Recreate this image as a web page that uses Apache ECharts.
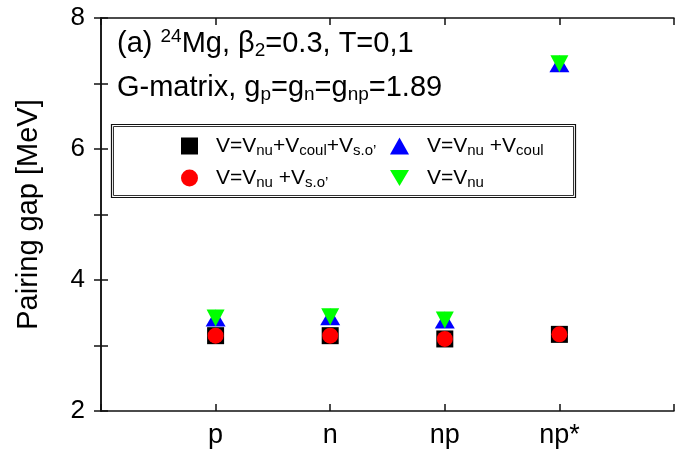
<!DOCTYPE html>
<html>
<head>
<meta charset="utf-8">
<script src="https://cdn.jsdelivr.net/npm/echarts@6/dist/echarts.min.js"></script>
<style>
  html, body { margin: 0; padding: 0; background: #fff; }
  #chart { width: 677px; height: 453px; }
</style>
</head>
<body>
<div id="chart"></div>
<script>
// Pairing channels on the x axis
const categories = ['p', 'n', 'np', 'np*'];
// Pairing gaps [MeV] for each interaction variant
const gapFull   = [3.15, 3.15, 3.10, 3.17];  // V = Vnu + Vcoul + Vs.o.
const gapSO     = [3.15, 3.15, 3.10, 3.17];  // V = Vnu + Vs.o.
const gapCoul   = [3.42, 3.44, 3.39, 7.30];  // V = Vnu + Vcoul
const gapNu     = [3.42, 3.44, 3.39, 7.30];  // V = Vnu
const yTicks = [2, 4, 6, 8];

const FONT = 'Liberation Sans, Arial, sans-serif';

function pts(vals) {
  return vals.map((v, i) => [i + 1, v]);
}

const legendText = {
  full: 'V=V{s|nu}+V{s|coul}+V{s|s.o\u2019}',
  coul: 'V=V{s|nu} +V{s|coul}',
  so:   'V=V{s|nu} +V{s|s.o\u2019}',
  nu:   'V=V{s|nu}'
};
const downTri = 'path://M0 0L20 0L10 17Z';

const legendRich = {
  s: { fontSize: 15, fontFamily: FONT, color: '#000', lineHeight: 13, verticalAlign: 'bottom' }
};
const legendTextStyle = {
  fontSize: 21, fontFamily: FONT, color: '#000', lineHeight: 24,
  padding: [0, 0, 0, 13], rich: legendRich
};

const chart = echarts.init(document.getElementById('chart'), null, { renderer: 'canvas' });

const frameLine = { show: true, lineStyle: { color: '#111', width: 1.5 } };
const tickStyle = { show: true, inside: true, length: 7, lineStyle: { color: '#111', width: 1.5 } };

chart.setOption({
  animation: false,
  backgroundColor: '#fff',
  grid: { left: 101, top: 18, right: 1, bottom: 42, containLabel: false },
  title: [
    {
      text: '(a) {sup|24}Mg, \u03b2{sub|2}=0.3, T=0,1',
      left: 112, top: 22,
      textStyle: {
        fontSize: 29, fontWeight: 'normal', fontFamily: FONT, color: '#000', lineHeight: 33,
        rich: {
          sup: { fontSize: 19, fontFamily: FONT, color: '#000', lineHeight: 14, verticalAlign: 'top' },
          sub: { fontSize: 19, fontFamily: FONT, color: '#000', lineHeight: 14, verticalAlign: 'bottom' }
        }
      }
    },
    {
      text: 'G-matrix, g{sub|p}=g{sub|n}=g{sub|np}=1.89',
      left: 112, top: 66,
      textStyle: {
        fontSize: 29, fontWeight: 'normal', fontFamily: FONT, color: '#000', lineHeight: 33,
        rich: {
          sub: { fontSize: 19, fontFamily: FONT, color: '#000', lineHeight: 14, verticalAlign: 'bottom' }
        }
      }
    }
  ],
  legend: [
    {
      orient: 'vertical', left: 176, top: 129, itemWidth: 17, itemHeight: 17, itemGap: 8,
      data: [{ name: 'full', icon: 'rect' }, { name: 'so', icon: 'circle' }],
      formatter: n => legendText[n], textStyle: legendTextStyle,
      itemStyle: { opacity: 1 }, selectedMode: false
    },
    {
      orient: 'vertical', left: 385, top: 129, itemWidth: 19, itemHeight: 17, itemGap: 8,
      data: [{ name: 'coul', icon: 'triangle' }, { name: 'nu', icon: downTri }],
      formatter: n => legendText[n], textStyle: legendTextStyle,
      itemStyle: { opacity: 1 }, selectedMode: false
    }
  ],
  graphic: [
    { type: 'rect', shape: { x: 111.5, y: 124.5, width: 464, height: 73 },
      style: { fill: null, stroke: '#111', lineWidth: 1.2 }, z: 1 },
    { type: 'rect', shape: { x: 113.5, y: 126.5, width: 460, height: 69 },
      style: { fill: null, stroke: '#333', lineWidth: 1 }, z: 1 }
  ],
  xAxis: [
    {
      type: 'value', position: 'bottom', min: 0, max: 5, interval: 1,
      axisLine: frameLine, axisTick: tickStyle,
      axisLabel: {
        formatter: v => categories[v - 1] || '',
        fontSize: 27, fontFamily: FONT, color: '#000', margin: 11
      },
      splitLine: { show: false }
    },
    {
      type: 'value', position: 'top', min: 0, max: 5, interval: 1,
      axisLine: frameLine, axisTick: tickStyle,
      axisLabel: { show: false },
      splitLine: { show: false }
    }
  ],
  yAxis: [
    {
      type: 'value', position: 'left', min: 2, max: 8, interval: 1,
      name: 'Pairing gap [MeV]', nameLocation: 'middle', nameGap: 58,
      nameTextStyle: { fontSize: 29, fontFamily: FONT, color: '#000' },
      axisLine: frameLine, axisTick: tickStyle,
      axisLabel: {
        formatter: v => (yTicks.indexOf(v) >= 0 ? String(v) : ''),
        fontSize: 26, fontFamily: FONT, color: '#000', margin: 16
      },
      splitLine: { show: false }
    },
    {
      type: 'value', position: 'right', min: 2, max: 8, interval: 1,
      axisLine: frameLine, axisTick: tickStyle,
      axisLabel: { show: false },
      splitLine: { show: false }
    }
  ],
  series: [
    { name: 'full', type: 'scatter', data: pts(gapFull), symbol: 'rect', symbolSize: 17,
      itemStyle: { color: '#000', opacity: 1 }, z: 2 },
    { name: 'so', type: 'scatter', data: pts(gapSO), symbol: 'circle', symbolSize: 16,
      itemStyle: { color: '#ff0000', opacity: 1 }, z: 3 },
    { name: 'coul', type: 'scatter', data: pts(gapCoul), symbol: 'triangle', symbolSize: [20, 17],
      itemStyle: { color: '#0000ff', opacity: 1 }, z: 4 },
    { name: 'nu', type: 'scatter', data: pts(gapNu), symbol: downTri, symbolSize: [18, 17],
      symbolKeepAspect: false, itemStyle: { color: '#00ff00', opacity: 1 }, z: 5 }
  ]
});
</script>
</body>
</html>
